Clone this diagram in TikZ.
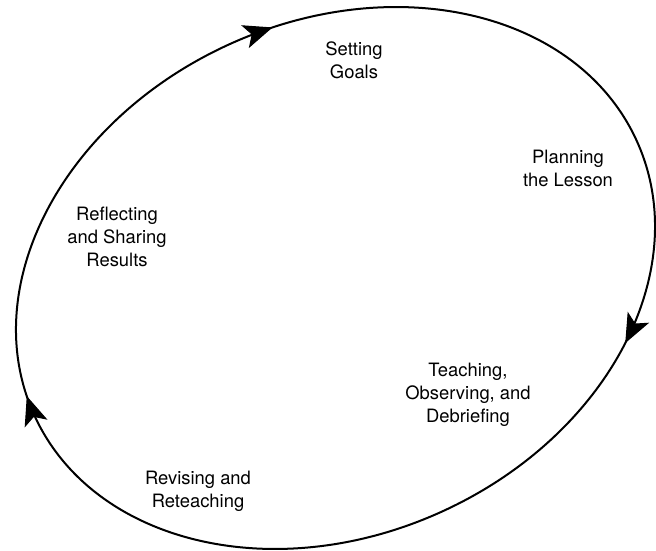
\documentclass[tikz,border=0pt]{standalone}
\usepackage{fontspec}
\setmainfont{TeX Gyre Heros}
\usetikzlibrary{arrows.meta}
\begin{document}
\begin{tikzpicture}[x=1pt,y=1pt,
  cyc/.style={line width=2pt, draw=black},
  head/.style={line width=1pt, draw=black, -{Stealth[length=29pt,width=24pt,inset=7pt]}},
  lbl/.style={align=center, inner sep=0pt, font=\fontsize{18.4}{23}\selectfont}]
\useasboundingbox (0,0) rectangle (656,550);
\begin{scope}[shift={(335.5,272)}, rotate=24.5]
  \draw[cyc] (0,0) ellipse [x radius=331, y radius=256.7];
  \coordinate (a1t) at ({331*cos(82.4)},{256.7*sin(82.4)});
  \coordinate (a1h) at ({331*cos(81.9)},{256.7*sin(81.9)});
  \coordinate (a2t) at ({331*cos(-43.85)},{256.7*sin(-43.85)});
  \coordinate (a2h) at ({331*cos(-44.35)},{256.7*sin(-44.35)});
  \coordinate (a3t) at ({331*cos(175.9)},{256.7*sin(175.9)});
  \coordinate (a3h) at ({331*cos(175.4)},{256.7*sin(175.4)});
  \draw[head] (a1t) -- (a1h);
  \draw[head] (a2t) -- (a2h);
  \draw[head] (a3t) -- (a3h);
\end{scope}
\node[lbl] (goals) at (354,490) {Setting\\Goals};
\node[lbl] (plan) at (568,382) {Planning\\the Lesson};
\node[lbl] (teach) at (468,155) {Teaching,\\Observing, and\\Debriefing};
\node[lbl] (revise) at (198,58.5) {Revising and\\Reteaching};
\node[lbl] (reflect) at (117,313) {Reflecting\\and Sharing\\Results};
\end{tikzpicture}
\end{document}
